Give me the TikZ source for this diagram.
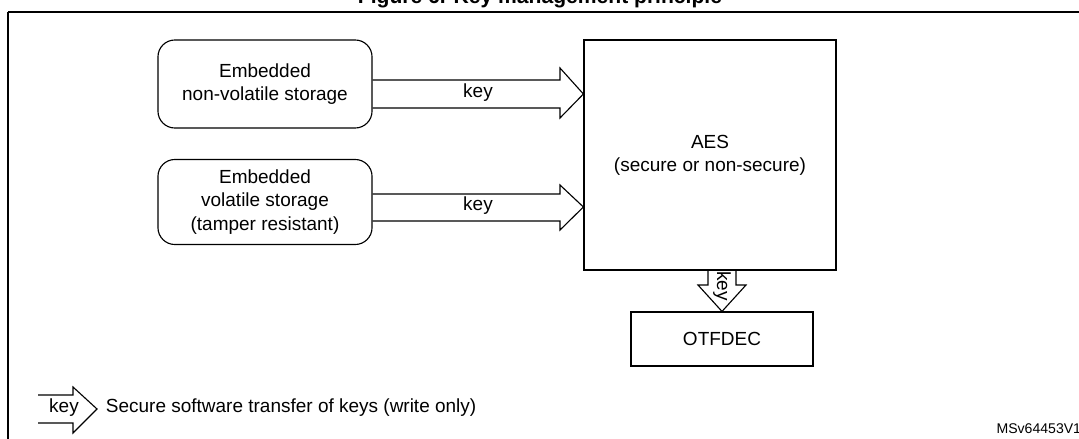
\documentclass[tikz,border=0pt]{standalone}
\usepackage{fontspec}
\setmainfont{Liberation Sans}
\usetikzlibrary{positioning}

\begin{document}
\begin{tikzpicture}[x=0.025cm,y=-0.025cm,
    store/.style={draw, line width=0.8pt, rounded corners=12pt, minimum width=5.35cm, align=center, font=\fontsize{13.5}{16.5}\selectfont},
    block/.style={draw, line width=0.8pt, font=\fontsize{13.5}{16.5}\selectfont, align=center},
    lbl/.style={font=\fontsize{13.5}{16}\selectfont}]
        \useasboundingbox (0,0) rectangle (1079,439);

        % frame and title
        \draw[line width=1pt] (8,12) -- (1090,12);
        \draw[line width=1pt] (8,12) -- (8,450);
        \node[font=\bfseries\fontsize{15}{18}\selectfont] (title) at (540,-2) {Figure 6. Key management principle};

        % the storages
        \node[store, minimum height=2.2cm] (nvs) at (265,84) {Embedded\\non-volatile storage};
        \node[store, minimum height=2.125cm] (vs) at (265,202) {Embedded\\volatile storage\\(tamper resistant)};

        % aes and otfdec
        \node[block, minimum width=6.3cm, minimum height=5.75cm] (aes) at (710,155) {AES\\(secure or non-secure)};
        \node[block, minimum width=4.55cm, minimum height=1.35cm] (otf) at (722,339) {OTFDEC};

        % the hollow key arrows
        \draw[line width=0.8pt] (nvs.east |- 0,80) -- (560,80) -- (560,68) -- (aes.west |- 0,94) -- (560,118) -- (560,108) -- (nvs.east |- 0,108);
        \node[lbl] (k1) at (478,93) {key};
        \draw[line width=0.8pt] (vs.east |- 0,194) -- (560,194) -- (560,185) -- (aes.west |- 0,207) -- (560,230) -- (560,221) -- (vs.east |- 0,221);
        \node[lbl] (k2) at (478,206) {key};
        \draw[line width=0.8pt] (708,270) -- (708,285) -- (698,285) -- (otf.north) -- (746,285) -- (736,285) -- (736,270);
        \node[lbl, rotate=-90] (k3) at (722,286) {key};

        % legend
        \draw[line width=0.8pt] (38,395) -- (73,395) -- (73,387) -- (97,409) -- (73,433) -- (73,423) -- (38,423);
        \node[lbl] (k4) at (64,408) {key};
        \node[lbl, anchor=west] (legend) at (101,408) {Secure software transfer of keys (write only)};
        \node[font=\fontsize{10}{12}\selectfont, anchor=east] (ref) at (1086,429) {MSv64453V1};
\end{tikzpicture}
\end{document}
